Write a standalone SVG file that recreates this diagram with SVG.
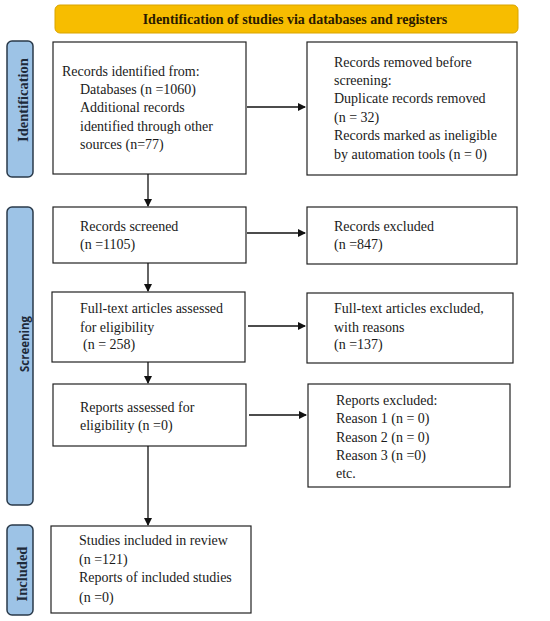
<svg xmlns="http://www.w3.org/2000/svg" width="550" height="621" viewBox="0 0 550 621">
<style>
.box{fill:#fff;stroke:#222;stroke-width:1.2}
.side{fill:#9dc3e6;stroke:#2a3a4a;stroke-width:1.5}
.t{font-family:"Liberation Serif",serif;font-size:14px;fill:#1a1a1a}
.st{font-family:"Liberation Serif",serif;font-size:14.5px;font-weight:bold;fill:#1e2a3a}
.ss{font-family:"Open Sans",sans-serif;font-size:11.5px;font-weight:bold;fill:#1e2a3a}
.ban{font-family:"Liberation Serif",serif;font-size:14px;font-weight:bold;fill:#2a1a00}
.c{stroke:#111;stroke-width:1.3;fill:none;marker-end:url(#ah)}
</style>
<defs>
<marker id="ah" markerWidth="8" markerHeight="8" refX="7" refY="4" orient="auto" markerUnits="userSpaceOnUse">
<path d="M0,0 L8,4 L0,8 Z" fill="#111"/>
</marker>
</defs>
<rect width="550" height="621" fill="#fff"/>
<g id="banner">
<rect x="55" y="5" width="463" height="28" rx="5" fill="#f7bd00" stroke="#d9a400" stroke-width="1"/>
<text class="ban" x="295" y="24" text-anchor="middle">Identification of studies via databases and registers</text>
</g>
<g id="label-identification">
<rect class="side" x="7" y="41" width="26" height="136" rx="5"/>
<text class="st" transform="translate(28,100) rotate(-90)" text-anchor="middle">Identification</text>
</g>
<g id="label-screening">
<rect class="side" x="7" y="207" width="26" height="298" rx="5"/>
<text class="ss" transform="translate(29,344) rotate(-90)" text-anchor="middle">Screening</text>
</g>
<g id="label-included">
<rect class="side" x="7" y="525" width="26" height="90" rx="5"/>
<text class="st" transform="translate(27,574) rotate(-90)" text-anchor="middle">Included</text>
</g>
<g id="n-identified">
<rect class="box" x="53" y="42" width="193" height="132"/>
<text class="t" x="62" y="76">Records identified from:</text>
<text class="t" x="80" y="94">Databases (n =1060)</text>
<text class="t" x="80" y="112">Additional records</text>
<text class="t" x="80" y="131">identified through other</text>
<text class="t" x="80" y="149">sources (n=77)</text>
</g>
<g id="n-removed">
<rect class="box" x="307" y="42" width="210" height="133"/>
<text class="t" x="334" y="67">Records removed before</text>
<text class="t" x="334" y="85">screening:</text>
<text class="t" x="334" y="103">Duplicate records removed</text>
<text class="t" x="334" y="122">(n = 32)</text>
<text class="t" x="334" y="140">Records marked as ineligible</text>
<text class="t" x="334" y="159">by automation tools (n = 0)</text>
</g>
<g id="n-screened">
<rect class="box" x="53" y="207" width="193" height="56"/>
<text class="t" x="80" y="231">Records screened</text>
<text class="t" x="80" y="249">(n =1105)</text>
</g>
<g id="n-excluded">
<rect class="box" x="307" y="207" width="210" height="57"/>
<text class="t" x="334" y="231">Records excluded</text>
<text class="t" x="334" y="249">(n =847)</text>
</g>
<g id="n-fulltext">
<rect class="box" x="52" y="292" width="193" height="70"/>
<text class="t" x="80" y="313">Full-text articles assessed</text>
<text class="t" x="80" y="332">for eligibility</text>
<text class="t" x="83" y="349">(n = 258)</text>
</g>
<g id="n-fulltext-excluded">
<rect class="box" x="307" y="293" width="206" height="70"/>
<text class="t" x="334" y="313">Full-text articles excluded,</text>
<text class="t" x="334" y="332">with reasons</text>
<text class="t" x="334" y="349">(n =137)</text>
</g>
<g id="n-reports">
<rect class="box" x="53" y="384" width="193" height="62"/>
<text class="t" x="80" y="412">Reports assessed for</text>
<text class="t" x="80" y="430">eligibility (n =0)</text>
</g>
<g id="n-reports-excluded">
<rect class="box" x="308" y="384" width="202" height="103"/>
<text class="t" x="336" y="405">Reports excluded:</text>
<text class="t" x="336" y="423">Reason 1 (n = 0)</text>
<text class="t" x="336" y="442">Reason 2 (n = 0)</text>
<text class="t" x="336" y="460">Reason 3 (n =0)</text>
<text class="t" x="336" y="478">etc.</text>
</g>
<g id="n-included">
<rect class="box" x="51" y="526" width="200" height="87"/>
<text class="t" x="79" y="545">Studies included in review</text>
<text class="t" x="79" y="564">(n =121)</text>
<text class="t" x="79" y="582">Reports of included studies</text>
<text class="t" x="79" y="602">(n =0)</text>
</g>
<g id="connectors">
<line class="c" x1="247" y1="107" x2="305" y2="107"/>
<line class="c" x1="148" y1="174" x2="148" y2="206"/>
<line class="c" x1="247" y1="233" x2="305" y2="233"/>
<line class="c" x1="148" y1="263" x2="148" y2="291"/>
<line class="c" x1="248" y1="326" x2="305" y2="326"/>
<line class="c" x1="148" y1="362" x2="148" y2="383"/>
<line class="c" x1="249" y1="415" x2="306" y2="415"/>
<line class="c" x1="148" y1="446" x2="148" y2="525"/>
</g>
</svg>
